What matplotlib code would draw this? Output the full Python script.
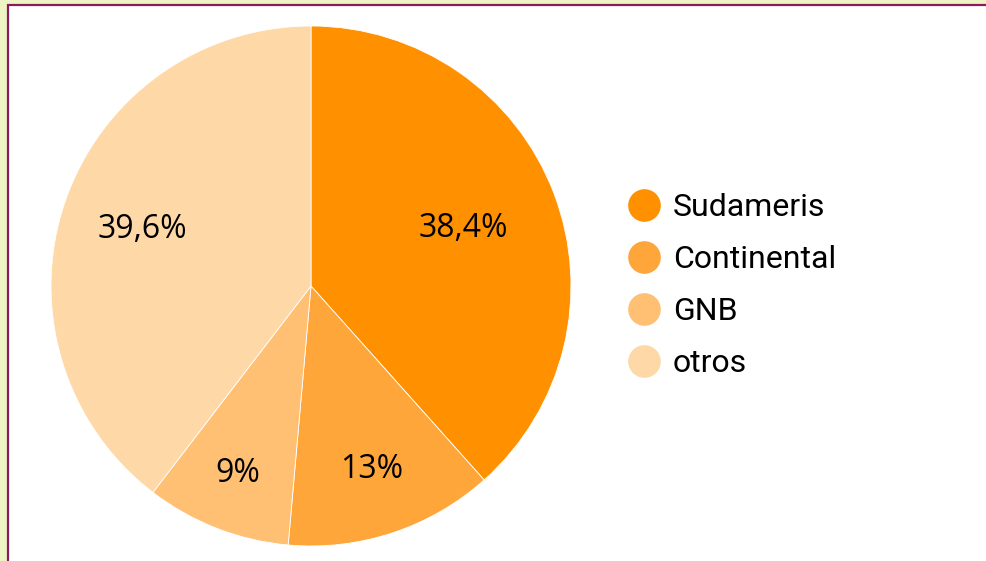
import matplotlib
matplotlib.use("Agg")
import matplotlib.pyplot as plt
from matplotlib.patches import Rectangle
from matplotlib.lines import Line2D
import numpy as np

categories = ["Sudameris", "Continental", "GNB", "otros"]
values = [38.4, 13, 9, 39.6]
value_labels = ["38,4%", "13%", "9%", "39,6%"]
colors = ["#ff9100", "#ffa63b", "#ffc074", "#fed9a7"]
label_radii = [0.625, 0.745, 0.772, 0.683]

W, H = 987, 561
fig = plt.figure(figsize=(W / 100, H / 100), dpi=100)
fig.patch.set_facecolor("#eff4c4")
fig.patches.append(Rectangle((8 / W, -0.1), 1.2, 1 - 5 / H + 0.1, transform=fig.transFigure,
                             facecolor="white", edgecolor="#8a1a5c", linewidth=1.6, zorder=-5))

cx, cy, r = 311, 286, 260
ax = fig.add_axes([(cx - r) / W, (H - cy - r) / H, 2 * r / W, 2 * r / H])
ax.set_zorder(2)
wedges, _ = ax.pie(values, colors=colors, startangle=90, counterclock=False, radius=1,
                   wedgeprops=dict(linewidth=0.6, edgecolor="white"))
ax.set_xlim(-1, 1)
ax.set_ylim(-1, 1)
ax.set_aspect("equal")
ax.axis("off")

for w, lab, d in zip(wedges, value_labels, label_radii):
    ang = np.deg2rad((w.theta1 + w.theta2) / 2)
    ax.text(d * np.cos(ang), d * np.sin(ang), lab, ha="center", va="center",
            fontsize=23, family=["Open Sans", "DejaVu Sans"], color="black")

handles = [Line2D([], [], marker="o", linestyle="none", markersize=22.5,
                  markerfacecolor=c, markeredgecolor=c) for c in colors]
leg = fig.legend(handles, categories, loc="center left", bbox_to_anchor=(628 / W, 1 - 286 / H),
                 frameon=False, prop=dict(family="Roboto", size=23), labelspacing=0.72,
                 handletextpad=0.4, handlelength=1.0, borderaxespad=0, borderpad=0)
leg.set_zorder(3)

fig.savefig("out.png", dpi=100, facecolor=fig.get_facecolor())
